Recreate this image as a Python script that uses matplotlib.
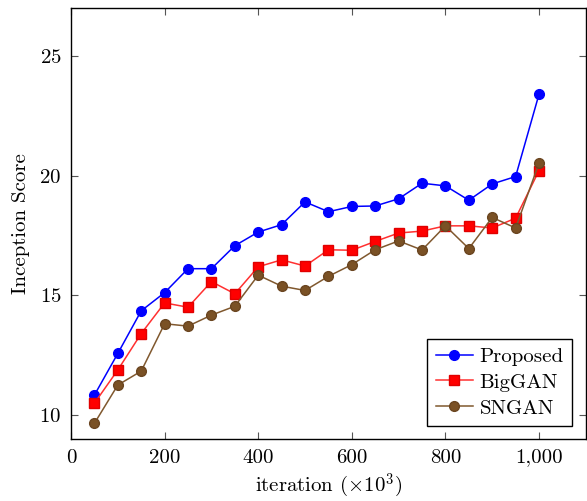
import matplotlib
matplotlib.use("Agg")
import matplotlib.pyplot as plt
from matplotlib.ticker import FuncFormatter

plt.rcParams["font.family"] = ["cmr10", "DejaVu Serif"]
plt.rcParams["mathtext.fontset"] = "cm"
plt.rcParams["axes.formatter.use_mathtext"] = True

# iteration (x10^3)
iterations = [50, 100, 150, 200, 250, 300, 350, 400, 450, 500,
              550, 600, 650, 700, 750, 800, 850, 900, 950, 1000]

proposed = [10.83, 12.57, 14.35, 15.11, 16.11, 16.11, 17.07, 17.64, 17.95, 18.90,
            18.49, 18.71, 18.73, 19.03, 19.68, 19.57, 18.97, 19.65, 19.96, 23.40]
biggan = [10.49, 11.88, 13.40, 14.68, 14.50, 15.57, 15.06, 16.19, 16.48, 16.22,
          16.90, 16.88, 17.25, 17.60, 17.68, 17.90, 17.90, 17.81, 18.22, 20.21]
sngan = [9.65, 11.25, 11.83, 13.81, 13.71, 14.17, 14.54, 15.84, 15.38, 15.20,
         15.79, 16.28, 16.90, 17.27, 16.89, 17.90, 16.95, 18.25, 17.81, 20.52]

BLUE = "#0000FF"
RED = "#FF0000"
BROWN = "#80582E"

fig = plt.figure(figsize=(5.87, 5.01), dpi=100)
ax = fig.add_axes([0.121, 0.124, 0.877, 0.86])

ax.plot(iterations, proposed, "-o", color=BLUE, lw=1.1, ms=7, label="Proposed")
ax.plot(iterations, biggan, "-s", color="#FF3030", mfc=RED, mec="#E00000", lw=1.1, ms=6.5, label="BigGAN")
ax.plot(iterations, sngan, "-o", color=BROWN, mfc="#7A5125", mec="#6A4520", lw=1.1, ms=7, label="SNGAN")

ax.set_xlim(0, 1100)
ax.set_ylim(9, 27)
ax.set_xticks([0, 200, 400, 600, 800, 1000])
ax.set_yticks([10, 15, 20, 25])
ax.xaxis.set_major_formatter(FuncFormatter(lambda v, p: f"{int(v):,}"))
ax.tick_params(direction="in", top=True, right=True, length=5, width=0.8,
               color="#555555", labelsize=15, pad=7)

for s in ax.spines.values():
    s.set_linewidth(1.0)

ax.set_xlabel(r"iteration ($\times 10^3$)", fontsize=15, labelpad=4)
ax.set_ylabel("Inception Score", fontsize=15, labelpad=7)

leg = ax.legend(loc="lower right", bbox_to_anchor=(0.973, 0.03), fontsize=15,
                fancybox=False, framealpha=1, edgecolor="black", handlelength=1.8,
                borderpad=0.4, labelspacing=0.35, handletextpad=0.3, borderaxespad=0)
leg.get_frame().set_linewidth(1.0)

fig.savefig("out.png", dpi=100)
